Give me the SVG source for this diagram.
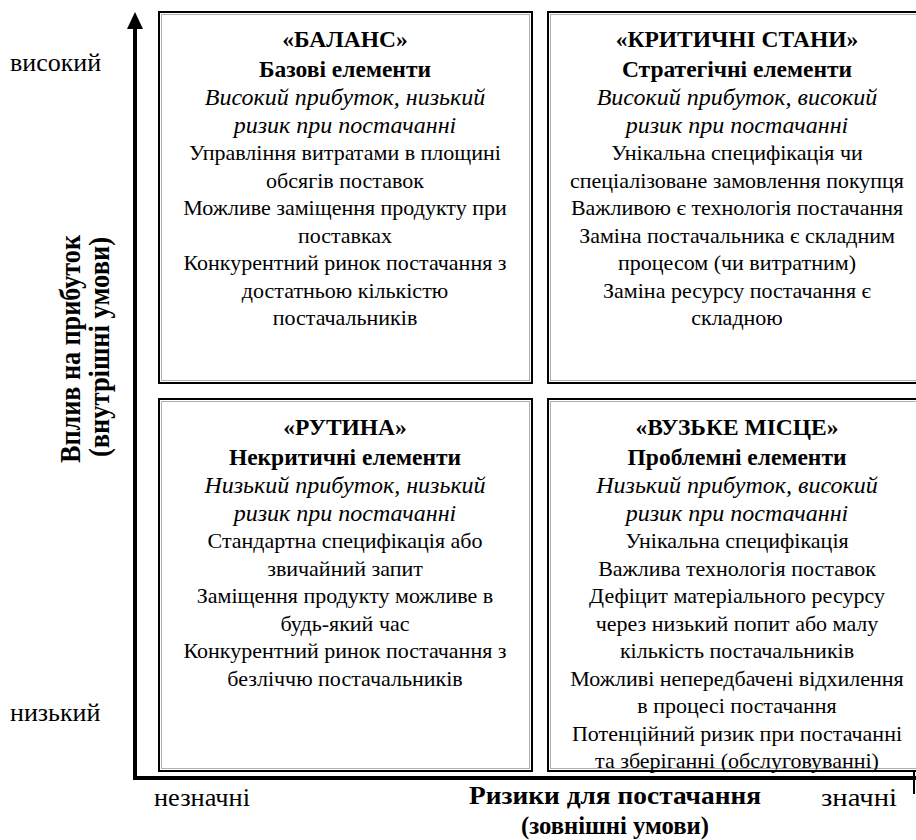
<svg xmlns="http://www.w3.org/2000/svg" width="916" height="840" viewBox="0 0 916 840">
  <style>
    text { font-family: 'Liberation Serif', 'Times New Roman', serif; fill: #000; text-anchor: middle; }
    .title { font-size: 23.5px; font-weight: bold; }
    .it { font-size: 24px; font-style: italic; }
    .body { font-size: 22px; }
    .lvl { font-size: 26px; text-anchor: start; }
    .ax { font-size: 25px; font-weight: bold; }
    .axv { font-size: 30px; font-weight: bold; text-anchor: start; }
    .axl { font-size: 26px; text-anchor: start; }
    .box { fill: #fff; stroke: #000; stroke-width: 2; }
    .box-in { fill: none; stroke: #b0b0b0; stroke-width: 1; }
    .axis { stroke: #000; stroke-width: 4; fill: none; }
  </style>
  <rect width="916" height="840" fill="#fff"/>

  <!-- axes -->
  <g id="connectors">
    <polyline class="axis" points="135,28 135,778 916,778"/>
    <polygon points="135,12 127,29 143,29" fill="#000"/>
    <line x1="914" y1="766" x2="914" y2="794" stroke="#000" stroke-width="2"/>
  </g>

  <!-- axis labels -->
  <g id="axis-labels">
    <text class="lvl" x="10" y="71">високий</text>
    <text class="lvl" x="10" y="721">низький</text>
    <text class="axv" transform="translate(80,463) rotate(-90)" textLength="228" lengthAdjust="spacingAndGlyphs">Вплив на прибуток</text>
    <text class="axv" transform="translate(109,457) rotate(-90)" textLength="220" lengthAdjust="spacingAndGlyphs">(внутрішні умови)</text>
    <text class="axl" x="154" y="806" textLength="96" lengthAdjust="spacingAndGlyphs">незначні</text>
    <text class="axl" x="821" y="806" textLength="76" lengthAdjust="spacingAndGlyphs">значні</text>
    <text class="ax" x="615" y="804" textLength="292" lengthAdjust="spacingAndGlyphs">Ризики для постачання</text>
    <text class="ax" x="615" y="834" textLength="188" lengthAdjust="spacingAndGlyphs">(зовнішні умови)</text>
  </g>

  <!-- quadrant: balance -->
  <g id="balance">
    <rect class="box" x="159" y="12" width="373" height="371"/>
    <rect class="box-in" x="161.5" y="14.5" width="368" height="366"/>
    <text class="title" x="345" y="47">«БАЛАНС»</text>
    <text class="title" x="345" y="77">Базові елементи</text>
    <text class="it" x="345" y="105">Високий прибуток, низький</text>
    <text class="it" x="345" y="133">ризик при постачанні</text>
    <text class="body" x="345" y="160">Управління витратами в площині</text>
    <text class="body" x="345" y="188">обсягів поставок</text>
    <text class="body" x="345" y="215">Можливе заміщення продукту при</text>
    <text class="body" x="345" y="243">поставках</text>
    <text class="body" x="345" y="270">Конкурентний ринок постачання з</text>
    <text class="body" x="345" y="298">достатньою кількістю</text>
    <text class="body" x="345" y="325">постачальників</text>
  </g>

  <!-- quadrant: critical -->
  <g id="critical">
    <rect class="box" x="548" y="12" width="376" height="371"/>
    <rect class="box-in" x="550.5" y="14.5" width="371" height="366"/>
    <text class="title" x="737" y="47">«КРИТИЧНІ СТАНИ»</text>
    <text class="title" x="737" y="77">Стратегічні елементи</text>
    <text class="it" x="737" y="105">Високий прибуток, високий</text>
    <text class="it" x="737" y="133">ризик при постачанні</text>
    <text class="body" x="737" y="160">Унікальна специфікація чи</text>
    <text class="body" x="737" y="188">спеціалізоване замовлення покупця</text>
    <text class="body" x="737" y="215">Важливою є технологія постачання</text>
    <text class="body" x="737" y="243">Заміна постачальника є складним</text>
    <text class="body" x="737" y="270">процесом (чи витратним)</text>
    <text class="body" x="737" y="298">Заміна ресурсу постачання є</text>
    <text class="body" x="737" y="325">складною</text>
  </g>

  <!-- quadrant: routine -->
  <g id="routine">
    <rect class="box" x="159" y="399" width="373" height="372"/>
    <rect class="box-in" x="161.5" y="401.5" width="368" height="367"/>
    <text class="title" x="345" y="435">«РУТИНА»</text>
    <text class="title" x="345" y="465">Некритичні елементи</text>
    <text class="it" x="345" y="493">Низький прибуток, низький</text>
    <text class="it" x="345" y="521">ризик при постачанні</text>
    <text class="body" x="345" y="548">Стандартна специфікація або</text>
    <text class="body" x="345" y="576">звичайний запит</text>
    <text class="body" x="345" y="603">Заміщення продукту можливе в</text>
    <text class="body" x="345" y="631">будь-який час</text>
    <text class="body" x="345" y="658">Конкурентний ринок постачання з</text>
    <text class="body" x="345" y="686">безліччю постачальників</text>
  </g>

  <!-- quadrant: bottleneck -->
  <g id="bottleneck">
    <rect class="box" x="548" y="399" width="376" height="372"/>
    <rect class="box-in" x="550.5" y="401.5" width="371" height="367"/>
    <text class="title" x="737" y="435">«ВУЗЬКЕ МІСЦЕ»</text>
    <text class="title" x="737" y="465">Проблемні елементи</text>
    <text class="it" x="737" y="493">Низький прибуток, високий</text>
    <text class="it" x="737" y="521">ризик при постачанні</text>
    <text class="body" x="737" y="548">Унікальна специфікація</text>
    <text class="body" x="737" y="576">Важлива технологія поставок</text>
    <text class="body" x="737" y="603">Дефіцит матеріального ресурсу</text>
    <text class="body" x="737" y="631">через низький попит або малу</text>
    <text class="body" x="737" y="658">кількість постачальників</text>
    <text class="body" x="737" y="686">Можливі непередбачені відхилення</text>
    <text class="body" x="737" y="713">в процесі постачання</text>
    <text class="body" x="737" y="741">Потенційний ризик при постачанні</text>
    <text class="body" x="737" y="768">та зберіганні (обслуговуванні)</text>
  </g>
</svg>
